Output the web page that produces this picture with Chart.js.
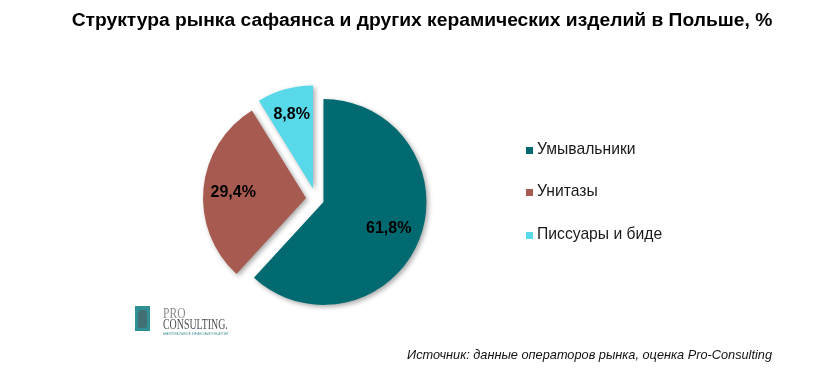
<!DOCTYPE html>
<html>
<head>
<meta charset="utf-8">
<script src="https://cdn.jsdelivr.net/npm/chart.js@4.4.1/dist/chart.umd.min.js"></script>
<style>
  html, body { margin: 0; padding: 0; background: #ffffff; }
  #wrap { position: relative; width: 825px; height: 371px; overflow: hidden; background: #fff; font-family: "Liberation Sans", Arial, sans-serif; }
  #chart { position: absolute; left: 0; top: 0; }
  #title { position: absolute; left: 22px; top: 10px; width: 800px; text-align: center; font-weight: bold; font-size: 19.25px; line-height: 19px; color: #000; white-space: nowrap; }
  #legend { position: absolute; left: 526px; top: 0; }
  .item { position: absolute; left: 0; white-space: nowrap; font-size: 15.7px; line-height: 15px; color: #1a1a1a; }
  .sw { position: absolute; left: 0; width: 7px; height: 7px; }
  .lt { position: absolute; left: 11px; top: 0; }
  #source { position: absolute; right: 53px; top: 348px; font-style: italic; font-size: 12.75px; line-height: 13px; color: #111; white-space: nowrap; }
  #logo { position: absolute; left: 135px; top: 305px; width: 110px; height: 32px; }
  #logo .box { position: absolute; left: 0; top: 1px; width: 15px; height: 25px; background: #2f8f95; }
  #logo .box2 { position: absolute; left: 3px; top: 5px; width: 9px; height: 18px; background: #5a4a4a; opacity: 0.45; border-radius: 4px 2px 3px 2px; }
  #logo .pro { position: absolute; left: 28px; top: 1px; font-family: "Liberation Serif", serif; font-size: 11px; line-height: 11px; color: #8a8a8a; transform: scale(1.05, 1.35); transform-origin: 0 0; }
  #logo .cons { position: absolute; left: 28px; top: 12px; font-family: "Liberation Serif", serif; font-size: 11px; line-height: 11px; color: #4d4d4d; transform: scale(0.9, 1.35); transform-origin: 0 0; white-space: nowrap; }
  #logo .tag { position: absolute; left: 28px; top: 27px; font-size: 6px; line-height: 6px; color: #3d8f95; white-space: nowrap; transform: scale(0.43, 0.55); transform-origin: 0 0; }
</style>
</head>
<body>
<div id="wrap">
  <canvas id="chart" width="825" height="371"></canvas>
  <div id="title"></div>
  <div id="legend"></div>
  <div id="source"></div>
  <div id="logo">
    <div class="box"></div><div class="box2"></div>
    <div class="pro">PRO</div>
    <div class="cons">CONSULTING.</div>
    <div class="tag">АНАЛИТИКА РЫНКОВ. ФИНАНСОВЫЙ КОНСАЛТИНГ</div>
  </div>
</div>
<script>
// ---- data ----
const titleText = "Структура рынка сафаянса и других керамических изделий в Польше, %";
const sourceText = "Источник: данные операторов рынка, оценка Pro-Consulting";
const categories = ["Умывальники", "Унитазы", "Писсуары и биде"];
const shares = [61.8, 29.4, 8.8];
const sliceColors = ["#016a71", "#a75a4f", "#57d9e9"];
const explode = [8, 10, 11]; // explosion distance of each slice, px

document.getElementById('title').textContent = titleText;
document.getElementById('source').textContent = sourceText;

// HTML legend built from categories
const legendTops = [140.8, 183.3, 225.8];
const legend = document.getElementById('legend');
categories.forEach((c, i) => {
  const it = document.createElement('div');
  it.className = 'item';
  it.style.top = legendTops[i] + 'px';
  const sw = document.createElement('div');
  sw.className = 'sw';
  sw.style.background = sliceColors[i];
  sw.style.top = '6px';
  const lt = document.createElement('div');
  lt.className = 'lt';
  lt.textContent = c;
  it.appendChild(sw); it.appendChild(lt);
  legend.appendChild(it);
});

const fmt = v => v.toFixed(1).replace('.', ',') + '%';

// Explode slices: each arc is drawn by Chart.js, translated along its mid-angle
const explodePlugin = {
  id: 'explodeSlices',
  beforeDatasetsDraw(chart) {
    const ctx = chart.ctx;
    const meta = chart.getDatasetMeta(0);
    meta.data.forEach((arc, i) => {
      if (!arc._exploded) {
        const orig = arc.draw;
        arc.draw = function (c, area) {
          const mid = (this.startAngle + this.endAngle) / 2;
          const d = explode[i] || 0;
          c.save();
          c.translate(Math.cos(mid) * d, Math.sin(mid) * d);
          orig.call(this, c, area);
          c.restore();
        };
        arc._exploded = true;
      }
    });
    ctx.save();
    ctx.shadowColor = 'rgba(0,0,0,0.35)';
    ctx.shadowBlur = 5;
    ctx.shadowOffsetX = 2;
    ctx.shadowOffsetY = 2;
  },
  afterDatasetsDraw(chart, args, opts) {
    const ctx = chart.ctx;
    ctx.restore();
    const meta = chart.getDatasetMeta(0);
    const ds = chart.data.datasets[0];
    ctx.save();
    ctx.font = 'bold 16px "Liberation Sans", Arial, sans-serif';
    ctx.fillStyle = '#000';
    ctx.textAlign = 'center';
    ctx.textBaseline = 'middle';
    meta.data.forEach((arc, i) => {
      const p = arc.getProps(['x', 'y', 'startAngle', 'endAngle', 'outerRadius'], true);
      const mid = (p.startAngle + p.endAngle) / 2;
      const d = (explode[i] || 0) + p.outerRadius * opts.factors[i];
      ctx.fillText(fmt(ds.data[i]), p.x + Math.cos(mid) * d, p.y + Math.sin(mid) * d + 1.5);
    });
    ctx.restore();
  }
};

// chart area centered at (316,199)
new Chart(document.getElementById('chart'), {
  type: 'pie',
  data: {
    labels: categories,
    datasets: [{
      data: shares,
      backgroundColor: sliceColors,
      borderWidth: 0,
      radius: 103
    }]
  },
  options: {
    responsive: false,
    animation: false,
    layout: { padding: { left: 196, right: 389, top: 79, bottom: 52 } },
    plugins: {
      legend: { display: false },
      tooltip: { enabled: false },
      title: { display: false },
      explodeSlices: { factors: [0.68, 0.71, 0.76] }
    }
  },
  plugins: [explodePlugin]
});
</script>
</body>
</html>
